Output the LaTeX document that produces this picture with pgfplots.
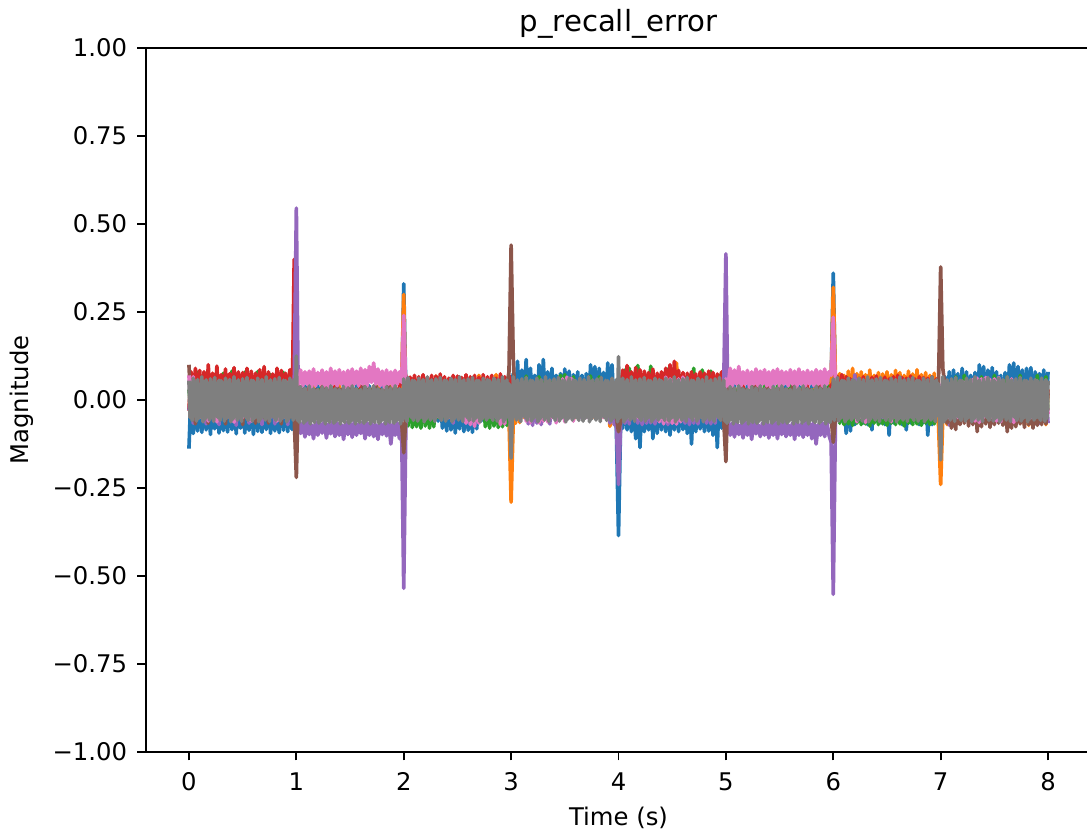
\documentclass[border=0pt]{standalone}
\usepackage{pgfplots}
\usepackage{pgfplotstable}
\pgfplotsset{compat=1.18}
\usepackage{fontspec}
\setmainfont{DejaVu Sans}
\definecolor{tabblue}{HTML}{1F77B4}
\definecolor{taborange}{HTML}{FF7F0E}
\definecolor{tabgreen}{HTML}{2CA02C}
\definecolor{tabred}{HTML}{D62728}
\definecolor{tabpurple}{HTML}{9467BD}
\definecolor{tabbrown}{HTML}{8C564B}
\definecolor{tabpink}{HTML}{E377C2}
\definecolor{tabgray}{HTML}{7F7F7F}

% columns: t blue orange green red purple brown pink
\pgfplotstableread{
t b o g r p n k
0.00 -0.138 -0.03 0.03 -0.03 -0.03 0.1 0.07
0.02 0.03 0.04 -0.03 0.08 0.02 -0.03 -0.04
0.04 -0.095 -0.03 0.04 -0.02 -0.066 0.04 0.066
0.06 0.04 0.072 -0.02 0.09 0.03 -0.068 -0.03
0.08 -0.088 -0.02 0.078 -0.03 -0.04 0.03 0.04
0.10 0.02 0.04 -0.03 0.084 0.02 -0.04 -0.05
0.12 -0.092 -0.03 0.05 -0.02 -0.05 0.02 0.05
0.14 0.03 0.03 -0.04 0.08 0.03 -0.05 -0.04
0.16 -0.085 -0.04 0.04 -0.03 -0.068 0.03 0.04
0.18 0.04 0.04 -0.02 0.1 0.02 -0.066 -0.06
0.20 -0.098 -0.02 0.03 -0.04 -0.04 0.04 0.05
0.22 0.02 0.075 -0.03 0.076 0.03 -0.04 -0.03
0.24 -0.082 -0.03 0.05 -0.03 -0.05 0.02 0.04
0.26 0.03 0.03 -0.04 0.096 0.02 -0.05 -0.062
0.28 -0.094 -0.04 0.04 -0.02 -0.07 0.03 0.05
0.30 0.04 0.04 -0.03 0.072 0.03 -0.035 -0.04
0.32 -0.087 -0.02 0.076 -0.03 -0.04 0.04 0.04
0.34 0.02 0.03 -0.02 0.088 0.02 -0.068 -0.05
0.36 -0.091 -0.03 0.04 -0.04 -0.05 0.03 0.05
0.38 0.03 0.071 -0.04 0.075 0.03 -0.04 -0.03
0.40 -0.084 -0.04 0.082 -0.02 -0.04 0.02 0.04
0.42 0.04 0.04 -0.03 0.092 0.02 -0.05 -0.063
0.44 -0.096 -0.02 0.03 -0.03 -0.072 0.04 0.05
0.46 0.02 0.03 -0.02 0.08 0.03 -0.04 -0.04
0.48 -0.08 -0.03 0.05 -0.04 -0.04 0.03 0.04
0.50 0.03 0.04 -0.04 0.078 0.02 -0.07 -0.05
0.52 -0.094 -0.04 0.079 -0.02 -0.05 0.02 0.05
0.54 0.04 0.074 -0.03 0.09 0.03 -0.04 -0.03
0.56 -0.086 -0.02 0.04 -0.03 -0.066 0.03 0.04
0.58 0.02 0.03 -0.02 0.082 0.02 -0.05 -0.06
0.60 -0.098 -0.03 0.03 -0.04 -0.04 0.04 0.05
0.62 0.03 0.04 -0.04 0.076 0.03 -0.066 -0.04
0.64 -0.089 -0.04 0.081 -0.02 -0.05 0.02 0.04
0.66 0.04 0.03 -0.03 0.086 0.02 -0.04 -0.05
0.68 -0.092 -0.02 0.04 -0.03 -0.07 0.03 0.05
0.70 0.02 0.072 -0.02 0.095 0.03 -0.05 -0.03
0.72 -0.084 -0.03 0.05 -0.04 -0.04 0.04 0.04
0.74 0.03 0.04 -0.04 0.08 0.02 -0.066 -0.05
0.76 -0.095 -0.04 0.072 -0.02 -0.05 0.02 0.05
0.78 0.04 0.03 -0.03 0.074 0.03 -0.04 -0.04
0.80 -0.088 -0.02 0.04 -0.03 -0.068 0.03 0.04
0.82 0.02 0.07 -0.02 0.09 0.02 -0.05 -0.06
0.84 -0.093 -0.03 0.03 -0.04 -0.04 0.04 0.05
0.86 0.03 0.04 -0.04 0.084 0.03 -0.068 -0.03
0.88 -0.086 -0.04 0.078 -0.02 -0.05 0.02 0.04
0.90 0.04 0.03 -0.03 0.076 0.02 -0.04 -0.05
0.92 -0.09 -0.02 0.04 -0.03 -0.07 0.03 0.05
0.94 0.02 0.04 -0.02 0.086 0.03 -0.05 -0.04
0.96 -0.084 -0.03 0.05 -0.04 -0.04 0.04 0.04
0.98 0.03 0.04 -0.04 0.40 0.04 -0.05 -0.04
1.00 0.02 0.03 -0.03 0.05 0.545 -0.22 0.05
1.02 -0.03 -0.02 0.03 -0.03 -0.06 0.04 0.045
1.04 0.03 0.03 -0.03 0.03 -0.095 -0.03 0.085
1.06 -0.02 -0.03 0.02 -0.04 -0.065 0.03 0.04
1.08 0.04 0.02 -0.04 0.02 -0.105 -0.04 0.08
1.10 -0.03 -0.04 0.03 -0.03 -0.06 0.02 0.045
1.12 0.02 0.03 -0.02 0.04 -0.098 -0.03 0.082
1.14 -0.04 -0.02 0.04 -0.02 -0.07 0.04 0.035
1.16 0.03 0.04 -0.03 0.03 -0.11 -0.02 0.088
1.18 -0.02 -0.03 0.02 -0.04 -0.062 0.03 0.04
1.20 0.04 0.02 -0.04 0.02 -0.1 -0.04 0.078
1.22 -0.03 -0.04 0.03 -0.03 -0.066 0.02 0.045
1.24 0.02 0.03 -0.02 0.04 -0.094 -0.03 0.085
1.26 -0.04 -0.02 0.04 -0.02 -0.06 0.04 0.04
1.28 0.03 0.04 -0.03 0.03 -0.108 -0.02 0.08
1.30 -0.02 -0.03 0.02 -0.04 -0.068 0.03 0.035
1.32 0.04 0.02 -0.04 0.02 -0.096 -0.04 0.09
1.34 -0.03 -0.04 0.03 -0.03 -0.06 0.02 0.045
1.36 0.02 0.03 -0.02 0.04 -0.104 -0.03 0.082
1.38 -0.04 -0.02 0.04 -0.02 -0.065 0.04 0.04
1.40 0.03 0.04 -0.03 0.03 -0.1 -0.02 0.086
1.42 -0.02 -0.03 0.02 -0.04 -0.07 0.03 0.045
1.44 0.04 0.02 -0.04 0.02 -0.112 -0.04 0.08
1.46 -0.03 -0.04 0.03 -0.03 -0.062 0.02 0.035
1.48 0.02 0.03 -0.02 0.04 -0.098 -0.03 0.084
1.50 -0.04 -0.02 0.04 -0.02 -0.066 0.04 0.04
1.52 0.03 0.04 -0.03 0.03 -0.106 -0.02 0.088
1.54 -0.02 -0.03 0.02 -0.04 -0.06 0.03 0.045
1.56 0.04 0.02 -0.04 0.02 -0.1 -0.04 0.082
1.58 -0.03 -0.04 0.03 -0.03 -0.068 0.02 0.04
1.60 0.02 0.03 -0.02 0.04 -0.095 -0.03 0.09
1.62 -0.04 -0.02 0.04 -0.02 -0.062 0.04 0.045
1.64 0.03 0.04 -0.03 0.03 -0.11 -0.02 0.086
1.66 -0.02 -0.03 0.02 -0.04 -0.065 0.03 0.04
1.68 0.04 0.02 -0.04 0.02 -0.1 -0.04 0.095
1.70 -0.03 -0.04 0.03 -0.03 -0.06 0.02 0.05
1.72 0.02 0.03 -0.02 0.04 -0.104 -0.03 0.105
1.74 -0.04 -0.02 0.04 -0.02 -0.07 0.04 0.045
1.76 0.03 0.04 -0.03 0.03 -0.112 -0.02 0.088
1.78 -0.02 -0.03 0.02 -0.04 -0.062 0.03 0.04
1.80 0.04 0.02 -0.04 0.02 -0.098 -0.04 0.082
1.82 -0.03 -0.04 0.03 -0.03 -0.066 0.02 0.035
1.84 0.02 0.03 -0.02 0.04 -0.102 -0.03 0.085
1.86 -0.04 -0.02 0.04 -0.02 -0.06 0.04 0.045
1.88 0.03 0.04 -0.03 0.03 -0.125 -0.02 0.08
1.90 -0.02 -0.03 0.02 -0.04 -0.068 0.03 0.04
1.92 0.04 0.02 -0.04 0.02 -0.1 -0.04 0.084
1.94 -0.03 -0.04 0.03 -0.03 -0.065 0.02 0.045
1.96 0.02 0.03 -0.02 0.04 -0.11 -0.03 0.08
1.98 -0.03 0.05 0.02 0.05 -0.07 -0.06 0.05
2.00 0.33 0.30 0.02 0.06 -0.535 -0.15 0.24
2.02 0.02 -0.03 -0.04 0.07 -0.07 -0.05 0.03
2.04 -0.04 0.03 -0.074 -0.03 0.03 0.02 0.03
2.06 0.03 -0.03 0.03 0.065 -0.04 -0.03 -0.04
2.08 -0.05 0.04 -0.078 -0.02 0.02 0.03 0.04
2.10 0.02 -0.02 0.02 0.07 -0.05 -0.02 -0.03
2.12 -0.04 0.03 -0.076 -0.03 0.03 0.04 0.03
2.14 0.03 -0.04 0.03 0.066 -0.04 -0.03 -0.04
2.16 -0.05 0.02 -0.08 -0.04 0.02 0.02 0.04
2.18 0.02 -0.03 0.02 0.072 -0.05 -0.04 -0.05
2.20 -0.04 0.04 -0.074 -0.02 0.03 0.03 0.03
2.22 0.03 -0.02 0.03 0.064 -0.04 -0.02 -0.04
2.24 -0.05 0.03 -0.08 -0.03 0.02 0.04 0.04
2.26 0.02 -0.04 0.02 0.07 -0.05 -0.03 -0.03
2.28 -0.04 0.02 -0.076 -0.04 0.03 0.02 0.03
2.30 0.03 0.068 0.03 0.068 -0.04 -0.04 -0.05
2.32 -0.06 0.03 -0.05 -0.02 0.02 0.03 0.04
2.34 0.02 -0.03 0.02 0.074 -0.05 -0.02 -0.04
2.36 -0.08 0.04 -0.05 -0.03 0.03 0.04 0.03
2.38 0.03 -0.02 0.03 0.066 -0.04 -0.03 -0.04
2.40 -0.088 0.03 -0.04 -0.04 0.02 0.02 0.04
2.42 0.02 -0.04 0.02 0.062 -0.05 -0.04 -0.05
2.44 -0.085 0.02 -0.05 -0.02 0.03 0.03 0.03
2.46 0.03 -0.03 0.03 0.07 -0.066 -0.02 -0.04
2.48 -0.094 0.04 -0.04 -0.03 0.02 0.04 0.04
2.50 0.02 -0.02 0.02 0.068 -0.04 -0.03 -0.03
2.52 -0.082 0.03 -0.05 -0.04 0.03 0.02 0.03
2.54 0.03 -0.04 0.03 0.064 -0.05 -0.04 -0.05
2.56 -0.09 0.02 -0.04 -0.02 0.02 0.03 0.04
2.58 0.02 -0.03 0.02 0.072 -0.04 -0.02 -0.066
2.60 -0.086 0.04 -0.05 -0.03 0.03 0.04 0.03
2.62 0.03 -0.02 0.03 0.066 -0.05 -0.03 -0.07
2.64 -0.092 0.03 -0.04 -0.04 0.02 0.02 0.04
2.66 0.02 -0.04 0.02 0.07 -0.04 -0.04 -0.075
2.68 -0.082 0.02 -0.05 -0.02 0.03 0.03 0.03
2.70 0.03 0.07 0.03 0.064 -0.05 -0.02 -0.066
2.72 -0.06 0.03 -0.05 -0.03 0.02 0.04 0.04
2.74 0.02 -0.03 0.02 0.072 -0.04 -0.03 -0.05
2.76 -0.05 0.04 -0.076 -0.04 0.03 0.02 0.03
2.78 0.03 -0.02 0.03 0.066 -0.05 -0.04 -0.04
2.80 -0.04 0.03 -0.08 -0.02 0.02 0.03 0.04
2.82 0.02 -0.04 0.02 0.07 -0.04 -0.02 -0.05
2.84 -0.05 0.02 -0.074 -0.03 0.03 0.04 0.03
2.86 0.03 0.072 0.03 0.062 -0.05 -0.03 -0.04
2.88 -0.04 0.03 -0.078 -0.04 0.02 0.02 0.04
2.90 0.02 -0.03 0.02 0.074 -0.04 -0.04 -0.07
2.92 -0.05 0.04 -0.076 -0.02 0.03 0.03 0.03
2.94 0.03 -0.02 0.03 0.066 -0.05 -0.02 -0.068
2.96 -0.04 0.03 -0.072 -0.03 0.02 0.04 0.04
2.98 0.03 -0.05 0.03 0.07 -0.04 0.08 -0.04
3.00 0.03 -0.29 -0.03 0.04 0.02 0.44 0.03
3.02 0.075 -0.06 0.04 -0.03 -0.03 0.12 0.04
3.04 -0.03 -0.066 -0.03 0.03 -0.04 -0.03 0.03
3.06 0.11 0.03 0.05 -0.02 0.02 0.02 -0.04
3.08 -0.04 -0.064 -0.02 0.04 -0.05 -0.04 0.04
3.10 0.085 0.02 0.04 -0.03 0.03 0.03 -0.05
3.12 -0.03 -0.05 -0.03 0.03 -0.04 -0.02 0.03
3.14 0.115 0.03 0.068 -0.02 0.02 0.04 -0.06
3.16 -0.04 -0.04 -0.02 0.04 -0.068 -0.03 0.04
3.18 0.09 0.02 0.05 -0.03 0.03 0.02 -0.064
3.20 -0.03 -0.05 -0.03 0.03 -0.072 -0.04 0.03
3.22 0.07 0.03 0.04 -0.02 0.02 0.03 -0.05
3.24 -0.04 -0.04 -0.02 0.04 -0.066 -0.02 0.04
3.26 0.1 0.02 0.066 -0.03 0.03 0.04 -0.065
3.28 -0.03 -0.05 -0.03 0.03 -0.07 -0.03 0.03
3.30 0.115 0.03 0.05 -0.02 0.02 0.02 -0.06
3.32 -0.04 -0.04 -0.02 0.04 -0.05 -0.04 0.04
3.34 0.08 0.02 0.04 -0.03 0.03 0.03 -0.062
3.36 -0.03 -0.05 -0.03 0.03 -0.068 -0.02 0.03
3.38 0.09 0.03 0.05 -0.02 0.02 0.04 -0.05
3.40 -0.04 -0.04 -0.02 0.04 -0.05 -0.03 0.04
3.42 0.07 0.02 0.04 -0.03 0.03 0.02 -0.065
3.44 -0.03 -0.05 -0.03 0.03 -0.04 -0.04 0.05
3.46 0.075 0.03 0.07 -0.02 0.02 0.03 -0.05
3.48 -0.04 -0.04 -0.02 0.04 -0.05 -0.02 0.06
3.50 0.088 0.02 0.072 -0.03 0.03 0.04 -0.062
3.52 -0.03 -0.05 -0.03 0.03 -0.04 -0.03 0.065
3.54 0.082 0.03 0.05 -0.02 0.02 0.02 -0.05
3.56 -0.04 -0.04 -0.02 0.04 -0.05 -0.04 0.062
3.58 0.072 0.02 0.066 -0.03 0.03 0.03 -0.06
3.60 -0.03 -0.05 -0.03 0.03 -0.04 -0.02 0.05
3.62 0.08 0.03 0.04 -0.02 0.02 0.04 -0.05
3.64 -0.04 -0.04 -0.02 0.04 -0.05 -0.03 0.04
3.66 0.07 0.02 0.05 -0.03 0.03 0.02 -0.04
3.68 -0.03 -0.05 -0.03 0.03 -0.04 -0.04 0.03
3.70 0.075 0.03 0.04 -0.02 0.02 0.03 -0.05
3.72 -0.04 -0.04 -0.02 0.04 -0.05 -0.02 0.04
3.74 0.1 0.02 0.068 -0.03 0.03 0.04 -0.04
3.76 -0.03 -0.05 -0.03 0.03 -0.04 -0.03 0.03
3.78 0.095 0.03 0.05 -0.02 0.02 0.02 -0.05
3.80 -0.04 -0.04 -0.02 0.04 -0.05 -0.04 0.04
3.82 0.09 0.02 0.066 -0.03 0.03 0.03 -0.04
3.84 -0.03 -0.05 -0.03 0.03 -0.04 -0.02 0.03
3.86 0.078 0.03 0.04 -0.02 0.02 0.04 -0.05
3.88 -0.04 -0.04 -0.02 0.04 -0.05 -0.03 0.04
3.90 0.105 0.02 0.05 -0.03 0.03 0.02 -0.04
3.92 -0.03 -0.075 -0.03 0.03 -0.066 -0.04 0.03
3.94 0.1 0.03 0.04 -0.02 0.02 0.03 -0.05
3.96 -0.04 -0.07 -0.02 0.04 -0.07 -0.02 0.04
3.98 -0.08 0.03 0.03 -0.03 -0.07 -0.05 -0.04
4.00 -0.385 -0.03 0.02 0.03 -0.24 -0.09 -0.05
4.02 -0.06 0.02 -0.03 0.04 -0.07 -0.06 0.03
4.04 -0.08 -0.03 -0.03 0.085 0.03 0.03 0.04
4.06 0.03 0.04 0.085 -0.02 -0.066 -0.04 -0.04
4.08 -0.085 -0.02 -0.02 0.098 0.02 0.02 0.03
4.10 0.02 0.03 0.09 -0.03 -0.068 -0.03 -0.05
4.12 -0.09 -0.04 -0.03 0.08 0.03 0.04 0.04
4.14 0.03 0.03 0.07 -0.02 -0.05 -0.02 -0.04
4.16 -0.11 -0.03 -0.02 0.092 0.02 0.03 0.03
4.18 0.02 0.04 0.098 -0.03 -0.066 -0.04 -0.05
4.20 -0.135 -0.02 -0.03 0.086 0.03 0.02 0.04
4.22 0.03 0.03 0.05 -0.02 -0.07 -0.03 -0.04
4.24 -0.09 -0.04 -0.02 0.082 0.02 0.04 0.03
4.26 0.02 0.03 0.07 -0.03 -0.066 -0.02 -0.05
4.28 -0.085 -0.03 -0.03 0.078 0.03 0.03 0.04
4.30 0.03 0.04 0.096 -0.02 -0.065 -0.04 -0.04
4.32 -0.11 -0.02 -0.02 0.088 0.02 0.02 0.03
4.34 0.02 0.03 0.05 -0.03 -0.068 -0.03 -0.05
4.36 -0.095 -0.04 -0.03 0.076 0.03 0.04 0.04
4.38 0.03 0.03 0.07 -0.02 -0.05 -0.02 -0.062
4.40 -0.085 -0.03 -0.02 0.08 0.02 0.03 0.05
4.42 0.02 0.04 0.05 -0.03 -0.066 -0.04 -0.068
4.44 -0.09 -0.02 -0.03 0.09 0.03 0.02 0.065
4.46 0.03 0.03 0.088 -0.02 -0.07 -0.03 -0.062
4.48 -0.1 -0.04 -0.02 0.1 0.02 0.04 0.06
4.50 0.02 0.03 0.07 -0.03 -0.066 -0.02 -0.066
4.52 -0.085 -0.03 -0.03 0.11 0.03 0.03 0.062
4.54 0.03 0.105 0.05 -0.02 -0.068 -0.04 -0.068
4.56 -0.09 -0.02 -0.02 0.084 0.02 0.02 0.06
4.58 0.02 0.03 0.07 -0.03 -0.05 -0.03 -0.062
4.60 -0.084 -0.04 -0.03 0.078 0.03 0.04 0.065
4.62 0.03 0.03 0.05 -0.02 -0.066 -0.02 -0.05
4.64 -0.095 -0.03 -0.02 0.076 0.02 0.03 0.06
4.66 0.02 0.04 0.07 -0.03 -0.07 -0.04 -0.04
4.68 -0.125 -0.02 -0.03 0.08 0.03 0.02 0.05
4.70 0.03 0.03 0.09 -0.02 -0.066 -0.03 -0.05
4.72 -0.09 -0.04 -0.02 0.074 0.02 0.04 0.04
4.74 0.02 0.03 0.05 -0.03 -0.068 -0.02 -0.04
4.76 -0.082 -0.03 -0.03 0.08 0.03 0.03 0.05
4.78 0.03 0.04 0.085 -0.02 -0.05 -0.04 -0.05
4.80 -0.09 -0.02 -0.02 0.076 0.02 0.02 0.04
4.82 0.02 0.03 0.07 -0.03 -0.066 -0.03 -0.04
4.84 -0.088 -0.04 -0.03 0.082 0.03 0.04 0.05
4.86 0.03 0.03 0.082 -0.02 -0.068 -0.02 -0.05
4.88 -0.1 -0.03 -0.02 0.078 0.02 0.03 0.04
4.90 0.02 0.04 0.05 -0.03 -0.066 -0.04 -0.04
4.92 -0.135 -0.02 -0.03 0.074 0.03 0.02 0.05
4.94 0.03 0.03 0.07 -0.02 -0.05 -0.03 -0.05
4.96 -0.08 -0.03 -0.02 0.08 0.02 0.04 0.04
4.98 0.03 0.03 0.04 -0.03 0.05 -0.06 -0.04
5.00 0.03 -0.02 0.03 0.04 0.415 -0.175 0.06
5.02 -0.03 0.03 -0.03 -0.03 -0.06 0.04 0.04
5.04 0.03 -0.03 0.02 0.04 -0.1 -0.03 0.09
5.06 -0.02 0.02 -0.03 -0.03 -0.065 0.03 0.04
5.08 0.04 -0.04 0.03 0.02 -0.105 -0.04 0.085
5.10 -0.03 0.03 -0.02 -0.04 -0.06 0.02 0.045
5.12 0.02 -0.02 0.04 0.03 -0.098 -0.03 0.095
5.14 -0.04 0.04 -0.03 -0.02 -0.07 0.04 0.04
5.16 0.03 -0.03 0.02 0.04 -0.108 -0.02 0.08
5.18 -0.02 0.02 -0.04 -0.03 -0.062 0.03 0.045
5.20 0.04 -0.04 0.03 0.02 -0.1 -0.04 0.084
5.22 -0.03 0.03 -0.02 -0.04 -0.066 0.02 0.035
5.24 0.02 -0.02 0.04 0.03 -0.112 -0.03 0.08
5.26 -0.04 0.04 -0.03 -0.02 -0.06 0.04 0.045
5.28 0.03 -0.03 0.02 0.04 -0.096 -0.02 0.088
5.30 -0.02 0.02 -0.04 -0.03 -0.07 0.03 0.04
5.32 0.04 -0.04 0.03 0.02 -0.104 -0.04 0.082
5.34 -0.03 0.03 -0.02 -0.04 -0.065 0.02 0.045
5.36 0.02 -0.02 0.04 0.03 -0.1 -0.03 0.086
5.38 -0.04 0.04 -0.03 -0.02 -0.06 0.04 0.04
5.40 0.03 -0.03 0.02 0.04 -0.108 -0.02 0.08
5.42 -0.02 0.02 -0.04 -0.03 -0.068 0.03 0.035
5.44 0.04 -0.04 0.03 0.02 -0.1 -0.04 0.084
5.46 -0.03 0.03 -0.02 -0.04 -0.062 0.02 0.045
5.48 0.02 -0.02 0.04 0.03 -0.11 -0.03 0.088
5.50 -0.04 0.04 -0.03 -0.02 -0.066 0.04 0.04
5.52 0.03 -0.03 0.02 0.04 -0.098 -0.02 0.082
5.54 -0.02 0.02 -0.04 -0.03 -0.06 0.03 0.045
5.56 0.04 -0.04 0.03 0.02 -0.104 -0.04 0.08
5.58 -0.03 0.03 -0.02 -0.04 -0.07 0.02 0.04
5.60 0.02 -0.02 0.04 0.03 -0.1 -0.03 0.086
5.62 -0.04 0.04 -0.03 -0.02 -0.065 0.04 0.045
5.64 0.03 -0.03 0.02 0.04 -0.112 -0.02 0.082
5.66 -0.02 0.02 -0.04 -0.03 -0.06 0.03 0.035
5.68 0.04 -0.04 0.03 0.02 -0.1 -0.04 0.088
5.70 -0.03 0.03 -0.02 -0.04 -0.068 0.02 0.045
5.72 0.02 -0.02 0.04 0.03 -0.106 -0.03 0.08
5.74 -0.04 0.04 -0.03 -0.02 -0.062 0.04 0.04
5.76 0.03 -0.03 0.02 0.04 -0.1 -0.02 0.084
5.78 -0.02 0.02 -0.04 -0.03 -0.066 0.03 0.045
5.80 0.04 -0.04 0.03 0.02 -0.11 -0.04 0.08
5.82 -0.03 0.03 -0.02 -0.04 -0.06 0.02 0.04
5.84 0.02 -0.02 0.04 0.03 -0.125 -0.03 0.086
5.86 -0.04 0.04 -0.03 -0.02 -0.07 0.04 0.045
5.88 0.03 -0.03 0.02 0.04 -0.1 -0.02 0.082
5.90 -0.02 0.02 -0.04 -0.03 -0.065 0.03 0.04
5.92 0.04 -0.04 0.03 0.02 -0.104 -0.04 0.088
5.94 -0.03 0.03 -0.02 -0.04 -0.062 0.02 0.045
5.96 0.02 -0.02 0.04 0.03 -0.1 -0.03 0.08
5.98 0.05 0.05 0.03 0.04 -0.12 -0.05 0.07
6.00 0.36 0.32 -0.03 0.05 -0.552 -0.12 0.235
6.02 0.03 0.07 0.03 0.07 -0.06 -0.05 0.04
6.04 -0.05 -0.03 0.03 0.065 0.02 0.03 0.04
6.06 0.03 0.075 -0.066 -0.03 -0.04 -0.02 -0.04
6.08 -0.06 -0.02 0.03 0.072 0.03 0.04 0.03
6.10 0.02 0.07 -0.07 -0.02 -0.04 -0.03 -0.05
6.12 -0.095 -0.03 0.02 0.066 0.02 0.02 0.04
6.14 0.03 0.082 -0.068 -0.03 -0.05 -0.04 -0.04
6.16 -0.088 -0.04 0.03 0.06 0.03 0.03 0.03
6.18 0.02 0.09 -0.072 -0.02 -0.04 -0.02 -0.05
6.20 -0.07 -0.02 0.02 0.07 0.072 0.04 0.04
6.22 0.03 0.075 -0.066 -0.03 -0.05 -0.03 -0.062
6.24 -0.06 -0.03 0.03 0.062 0.02 0.02 0.03
6.26 0.02 0.08 -0.07 -0.02 -0.04 -0.04 -0.05
6.28 -0.065 -0.04 0.02 0.066 0.03 0.03 0.04
6.30 0.03 0.072 -0.068 -0.03 -0.05 -0.02 -0.064
6.32 -0.07 -0.02 0.03 0.06 0.02 0.04 0.03
6.34 0.02 0.085 -0.074 -0.02 -0.04 -0.03 -0.05
6.36 -0.085 -0.03 0.02 0.064 0.03 0.02 0.04
6.38 0.03 0.07 -0.066 -0.03 -0.05 -0.04 -0.04
6.40 -0.06 -0.04 0.03 0.068 0.02 0.03 0.03
6.42 0.02 0.078 -0.07 -0.02 -0.04 -0.02 -0.05
6.44 -0.065 -0.02 0.02 0.062 0.03 0.04 0.04
6.46 0.03 0.074 -0.068 -0.03 -0.05 -0.03 -0.04
6.48 -0.07 -0.03 0.03 0.065 0.02 0.02 0.03
6.50 0.02 0.08 -0.072 -0.02 -0.04 -0.04 -0.05
6.52 -0.1 -0.04 0.02 0.06 0.03 0.03 0.04
6.54 0.03 0.072 -0.066 -0.03 -0.05 -0.02 -0.062
6.56 -0.065 -0.02 0.03 0.066 0.02 0.04 0.03
6.58 0.02 0.084 -0.07 -0.02 -0.04 -0.03 -0.05
6.60 -0.06 -0.03 0.02 0.07 0.03 0.02 0.04
6.62 0.03 0.078 -0.068 -0.03 -0.05 -0.04 -0.04
6.64 -0.07 -0.04 0.03 0.064 0.02 0.03 0.03
6.66 0.02 0.07 -0.074 -0.02 -0.04 -0.02 -0.05
6.68 -0.085 -0.02 0.02 0.062 0.03 0.04 0.04
6.70 0.03 0.082 -0.066 -0.03 -0.05 -0.03 -0.04
6.72 -0.065 -0.03 0.03 0.068 0.02 0.02 0.03
6.74 0.02 0.074 -0.07 -0.02 -0.04 -0.04 -0.05
6.76 -0.06 -0.04 0.02 0.06 0.03 0.03 0.04
6.78 0.03 0.086 -0.068 -0.03 -0.05 -0.02 -0.04
6.80 -0.07 -0.02 0.03 0.066 0.02 0.04 0.03
6.82 0.02 0.072 -0.072 -0.02 -0.04 -0.03 -0.05
6.84 -0.065 -0.03 0.02 0.064 0.03 0.02 0.04
6.86 0.03 0.078 -0.066 -0.03 -0.05 -0.04 -0.04
6.88 -0.1 -0.04 0.03 0.062 0.02 0.03 0.03
6.90 0.02 0.07 -0.07 -0.02 -0.04 -0.02 -0.05
6.92 -0.07 -0.02 0.02 0.066 0.03 0.04 0.04
6.94 0.03 0.076 -0.068 -0.03 -0.05 -0.03 -0.04
6.96 -0.06 -0.03 0.03 0.06 0.02 0.02 0.03
6.98 0.03 -0.07 -0.03 0.04 -0.04 0.05 -0.03
7.00 0.04 -0.24 -0.03 0.03 0.02 0.378 0.03
7.02 -0.03 -0.05 0.04 -0.03 -0.03 0.09 0.05
7.04 0.066 0.03 -0.03 0.03 -0.04 0.04 -0.04
7.06 -0.03 -0.07 0.04 -0.02 0.02 -0.066 0.04
7.08 0.08 0.03 -0.02 0.04 -0.072 0.03 -0.05
7.10 -0.04 -0.04 0.05 -0.03 0.03 -0.08 0.03
7.12 0.085 0.02 -0.03 0.03 -0.04 0.02 -0.04
7.14 -0.03 -0.05 0.066 -0.02 0.02 -0.084 0.05
7.16 0.075 0.03 -0.02 0.04 -0.05 0.04 -0.05
7.18 -0.04 -0.04 0.05 -0.03 0.03 -0.07 0.04
7.20 0.09 0.02 -0.03 0.03 -0.04 0.03 -0.04
7.22 -0.03 -0.05 0.07 -0.02 0.02 -0.066 0.05
7.24 0.08 0.03 -0.02 0.04 -0.05 0.02 -0.05
7.26 -0.04 -0.04 0.05 -0.03 0.03 -0.074 0.04
7.28 0.07 0.02 -0.03 0.03 -0.04 0.03 -0.04
7.30 -0.03 -0.05 0.04 -0.02 0.02 -0.07 0.058
7.32 0.078 0.03 -0.02 0.04 -0.05 0.04 -0.06
7.34 -0.04 -0.04 0.05 -0.03 0.03 -0.09 0.062
7.36 0.1 0.02 -0.03 0.03 -0.04 0.02 -0.064
7.38 -0.03 -0.05 0.066 -0.02 0.02 -0.076 0.06
7.40 0.095 0.03 -0.02 0.04 -0.05 0.03 -0.05
7.42 -0.04 -0.04 0.05 -0.03 0.03 -0.068 0.064
7.44 0.085 0.02 -0.03 0.03 -0.04 0.04 -0.04
7.46 -0.03 -0.05 0.04 -0.02 0.02 -0.078 0.058
7.48 0.092 0.03 -0.02 0.04 -0.05 0.02 -0.05
7.50 -0.04 -0.04 0.07 -0.03 0.03 -0.07 0.06
7.52 0.08 0.02 -0.03 0.03 -0.04 0.03 -0.06
7.54 -0.03 -0.05 0.05 -0.02 0.02 -0.066 0.064
7.56 0.07 0.03 -0.02 0.04 -0.05 0.04 -0.062
7.58 -0.04 -0.04 0.04 -0.03 0.03 -0.072 0.05
7.60 0.078 0.02 -0.03 0.03 -0.04 0.02 -0.04
7.62 -0.03 -0.05 0.066 -0.02 0.02 -0.09 0.04
7.64 0.1 0.03 -0.02 0.04 -0.05 0.03 -0.05
7.66 -0.04 -0.04 0.05 -0.03 0.03 -0.08 0.06
7.68 0.105 0.02 -0.03 0.03 -0.04 0.04 -0.064
7.70 -0.03 -0.05 0.04 -0.02 0.02 -0.076 0.05
7.72 0.095 0.03 -0.02 0.04 -0.05 0.02 -0.04
7.74 -0.04 -0.04 0.07 -0.03 0.03 -0.068 0.04
7.76 0.085 0.02 -0.03 0.03 -0.04 0.03 -0.05
7.78 -0.03 -0.07 0.05 -0.02 0.02 -0.078 0.04
7.80 0.09 0.03 -0.02 0.04 -0.05 0.04 -0.04
7.82 -0.04 -0.072 0.04 -0.03 0.03 -0.07 0.05
7.84 0.092 0.02 -0.03 0.03 -0.04 0.02 -0.05
7.86 -0.03 -0.068 0.05 -0.02 0.02 -0.08 0.04
7.88 0.08 0.03 -0.02 0.04 -0.05 0.03 -0.04
7.90 -0.04 -0.07 0.07 -0.03 0.03 -0.072 0.05
7.92 0.075 0.02 -0.03 0.03 -0.066 0.04 -0.05
7.94 -0.03 -0.05 0.05 -0.02 0.02 -0.07 0.04
7.96 0.085 0.03 -0.02 0.04 -0.05 0.02 -0.04
7.98 -0.04 -0.07 0.066 -0.03 0.03 -0.068 0.05
8.00 0.08 0.03 -0.03 0.03 -0.066 0.02 -0.04
}\datatab

\begin{document}
\begin{tikzpicture}
\path[use as bounding box, clip] (-60.08pt,-34.57pt) rectangle (387.22pt,309.45pt);
\begin{axis}[
  scale only axis,
  width=388.87pt, height=289.7pt,
  xmin=-0.4, xmax=8.4, ymin=-1, ymax=1,
  xtick={0,1,2,3,4,5,6,7,8},
  xticklabels={0,1,2,3,4,5,6,7,8},
  ytick={-1,-0.75,-0.5,-0.25,0,0.25,0.5,0.75,1},
  yticklabels={−1.00,−0.75,−0.50,−0.25,0.00,0.25,0.50,0.75,1.00},
  /pgf/number format/assume math mode=true,
  tick align=outside, xtick pos=bottom, ytick pos=left,
  major tick length=3.5pt,
  axis line style={line width=0.8pt},
  every tick/.style={line width=0.8pt, black},
  tick label style={font=\fontsize{10}{12}\selectfont, inner sep=0pt},
  xticklabel style={anchor=base, yshift=-12.5pt},
  yticklabel style={anchor=east, xshift=-4.1pt},
  label style={font=\fontsize{10}{12}\selectfont},
  every axis title shift=0pt,
  title={p\_recall\_error},
  title style={at={(axis description cs:0.5,1)}, anchor=base, yshift=6.8pt, font=\fontsize{12}{14}\selectfont, inner sep=0pt},
  xlabel={Time (s)},
  xlabel style={at={(axis description cs:0.5,0)}, anchor=base, yshift=-30.2pt, inner sep=0pt},
  ylabel={Magnitude},
  ylabel style={at={(axis description cs:-0.1317,0.5)}, anchor=center, inner sep=0pt},
  every axis plot/.append style={line width=1.5pt, line join=round, mark=none},
]
\addplot[tabblue] table[x=t, y=b] {\datatab};
\addplot[taborange] table[x=t, y=o] {\datatab};
\addplot[tabgreen] table[x=t, y=g] {\datatab};
\addplot[tabred] table[x=t, y=r] {\datatab};
\addplot[tabpurple] table[x=t, y=p] {\datatab};
\addplot[tabbrown] table[x=t, y=n] {\datatab};
\addplot[tabpink] table[x=t, y=k] {\datatab};
\addplot[tabgray] coordinates {
(0,0.055) (0.01,-0.05) (0.02,0.048) (0.03,-0.058) (0.04,0.062) (0.05,-0.045) (0.06,0.05) (0.07,-0.06) (0.08,0.058) (0.09,-0.052)
(0.1,0.044) (0.11,-0.048) (0.12,0.066) (0.13,-0.062) (0.14,0.052) (0.15,-0.054) (0.16,0.057) (0.17,-0.046) (0.18,0.046) (0.19,-0.057)
(0.2,0.06) (0.21,-0.05) (0.22,0.05) (0.23,-0.061) (0.24,0.064) (0.25,-0.044) (0.26,0.047) (0.27,-0.05) (0.28,0.056) (0.29,-0.058)
(0.3,0.055) (0.31,-0.045) (0.32,0.048) (0.33,-0.06) (0.34,0.062) (0.35,-0.052) (0.36,0.05) (0.37,-0.048) (0.38,0.058) (0.39,-0.062)
(0.4,0.044) (0.41,-0.054) (0.42,0.066) (0.43,-0.046) (0.44,0.052) (0.45,-0.057) (0.46,0.057) (0.47,-0.05) (0.48,0.046) (0.49,-0.061)
(0.5,0.06) (0.51,-0.044) (0.52,0.05) (0.53,-0.05) (0.54,0.064) (0.55,-0.058) (0.56,0.047) (0.57,-0.045) (0.58,0.056) (0.59,-0.06)
(0.6,0.055) (0.61,-0.052) (0.62,0.048) (0.63,-0.048) (0.64,0.062) (0.65,-0.062) (0.66,0.05) (0.67,-0.054) (0.68,0.058) (0.69,-0.046)
(0.7,0.044) (0.71,-0.057) (0.72,0.066) (0.73,-0.05) (0.74,0.052) (0.75,-0.061) (0.76,0.057) (0.77,-0.044) (0.78,0.046) (0.79,-0.05)
(0.8,0.06) (0.81,-0.058) (0.82,0.05) (0.83,-0.045) (0.84,0.064) (0.85,-0.06) (0.86,0.047) (0.87,-0.052) (0.88,0.056) (0.89,-0.048)
(0.9,0.055) (0.91,-0.062) (0.92,0.048) (0.93,-0.054) (0.94,0.062) (0.95,-0.046) (0.96,0.05) (0.97,-0.057) (0.98,0.058) (0.99,-0.05)
(1,0.125) (1.01,-0.058) (1.02,0.022) (1.03,-0.064) (1.04,0.038) (1.05,-0.052) (1.06,0.026) (1.07,-0.066) (1.08,0.034) (1.09,-0.06)
(1.1,0.018) (1.11,-0.055) (1.12,0.04) (1.13,-0.068) (1.14,0.028) (1.15,-0.058) (1.16,0.032) (1.17,-0.064) (1.18,0.024) (1.19,-0.052)
(1.2,0.03) (1.21,-0.066) (1.22,0.022) (1.23,-0.06) (1.24,0.038) (1.25,-0.055) (1.26,0.026) (1.27,-0.068) (1.28,0.034) (1.29,-0.058)
(1.3,0.018) (1.31,-0.064) (1.32,0.04) (1.33,-0.052) (1.34,0.028) (1.35,-0.066) (1.36,0.032) (1.37,-0.06) (1.38,0.024) (1.39,-0.055)
(1.4,0.03) (1.41,-0.068) (1.42,0.022) (1.43,-0.058) (1.44,0.038) (1.45,-0.064) (1.46,0.026) (1.47,-0.052) (1.48,0.034) (1.49,-0.066)
(1.5,0.018) (1.51,-0.06) (1.52,0.04) (1.53,-0.055) (1.54,0.028) (1.55,-0.068) (1.56,0.032) (1.57,-0.058) (1.58,0.024) (1.59,-0.064)
(1.6,0.03) (1.61,-0.052) (1.62,0.022) (1.63,-0.066) (1.64,0.038) (1.65,-0.06) (1.66,0.026) (1.67,-0.055) (1.68,0.034) (1.69,-0.068)
(1.7,0.018) (1.71,-0.058) (1.72,0.04) (1.73,-0.064) (1.74,0.028) (1.75,-0.052) (1.76,0.032) (1.77,-0.066) (1.78,0.024) (1.79,-0.06)
(1.8,0.03) (1.81,-0.055) (1.82,0.022) (1.83,-0.068) (1.84,0.038) (1.85,-0.058) (1.86,0.026) (1.87,-0.064) (1.88,0.034) (1.89,-0.052)
(1.9,0.018) (1.91,-0.066) (1.92,0.04) (1.93,-0.06) (1.94,0.028) (1.95,-0.055) (1.96,0.032) (1.97,-0.068) (1.98,0.024) (1.99,-0.058)
(2,0.06) (2.01,-0.05) (2.02,0.05) (2.03,-0.061) (2.04,0.064) (2.05,-0.044) (2.06,0.047) (2.07,-0.05) (2.08,0.056) (2.09,-0.058)
(2.1,0.055) (2.11,-0.045) (2.12,0.048) (2.13,-0.06) (2.14,0.062) (2.15,-0.052) (2.16,0.05) (2.17,-0.048) (2.18,0.058) (2.19,-0.062)
(2.2,0.044) (2.21,-0.054) (2.22,0.066) (2.23,-0.046) (2.24,0.052) (2.25,-0.057) (2.26,0.057) (2.27,-0.05) (2.28,0.046) (2.29,-0.061)
(2.3,0.06) (2.31,-0.044) (2.32,0.05) (2.33,-0.05) (2.34,0.064) (2.35,-0.058) (2.36,0.047) (2.37,-0.045) (2.38,0.056) (2.39,-0.06)
(2.4,0.055) (2.41,-0.052) (2.42,0.048) (2.43,-0.048) (2.44,0.062) (2.45,-0.062) (2.46,0.05) (2.47,-0.054) (2.48,0.058) (2.49,-0.046)
(2.5,0.044) (2.51,-0.057) (2.52,0.066) (2.53,-0.05) (2.54,0.052) (2.55,-0.061) (2.56,0.057) (2.57,-0.044) (2.58,0.046) (2.59,-0.05)
(2.6,0.06) (2.61,-0.058) (2.62,0.05) (2.63,-0.045) (2.64,0.064) (2.65,-0.06) (2.66,0.047) (2.67,-0.052) (2.68,0.056) (2.69,-0.048)
(2.7,0.055) (2.71,-0.062) (2.72,0.048) (2.73,-0.054) (2.74,0.062) (2.75,-0.046) (2.76,0.05) (2.77,-0.057) (2.78,0.058) (2.79,-0.05)
(2.8,0.055) (2.81,-0.05) (2.82,0.048) (2.83,-0.058) (2.84,0.062) (2.85,-0.045) (2.86,0.05) (2.87,-0.06) (2.88,0.058) (2.89,-0.052)
(2.9,0.044) (2.91,-0.048) (2.92,0.066) (2.93,-0.062) (2.94,0.052) (2.95,-0.054) (2.96,0.057) (2.97,-0.046) (2.98,0.046) (2.99,-0.057)
(3,-0.165) (3.01,-0.054) (3.02,0.066) (3.03,-0.046) (3.04,0.052) (3.05,-0.057) (3.06,0.057) (3.07,-0.05) (3.08,0.046) (3.09,-0.061)
(3.1,0.06) (3.11,-0.044) (3.12,0.05) (3.13,-0.05) (3.14,0.064) (3.15,-0.058) (3.16,0.047) (3.17,-0.045) (3.18,0.056) (3.19,-0.06)
(3.2,0.055) (3.21,-0.052) (3.22,0.048) (3.23,-0.048) (3.24,0.062) (3.25,-0.062) (3.26,0.05) (3.27,-0.054) (3.28,0.058) (3.29,-0.046)
(3.3,0.044) (3.31,-0.057) (3.32,0.066) (3.33,-0.05) (3.34,0.052) (3.35,-0.061) (3.36,0.057) (3.37,-0.044) (3.38,0.046) (3.39,-0.05)
(3.4,0.06) (3.41,-0.058) (3.42,0.05) (3.43,-0.045) (3.44,0.064) (3.45,-0.06) (3.46,0.047) (3.47,-0.052) (3.48,0.056) (3.49,-0.048)
(3.5,0.055) (3.51,-0.062) (3.52,0.048) (3.53,-0.054) (3.54,0.062) (3.55,-0.046) (3.56,0.05) (3.57,-0.057) (3.58,0.058) (3.59,-0.05)
(3.6,0.055) (3.61,-0.05) (3.62,0.048) (3.63,-0.058) (3.64,0.062) (3.65,-0.045) (3.66,0.05) (3.67,-0.06) (3.68,0.058) (3.69,-0.052)
(3.7,0.044) (3.71,-0.048) (3.72,0.066) (3.73,-0.062) (3.74,0.052) (3.75,-0.054) (3.76,0.057) (3.77,-0.046) (3.78,0.046) (3.79,-0.057)
(3.8,0.06) (3.81,-0.05) (3.82,0.05) (3.83,-0.061) (3.84,0.064) (3.85,-0.044) (3.86,0.047) (3.87,-0.05) (3.88,0.056) (3.89,-0.058)
(3.9,0.055) (3.91,-0.045) (3.92,0.048) (3.93,-0.06) (3.94,0.062) (3.95,-0.052) (3.96,0.05) (3.97,-0.048) (3.98,0.058) (3.99,-0.062)
(4,0.123) (4.01,-0.052) (4.02,0.048) (4.03,-0.048) (4.04,0.062) (4.05,-0.062) (4.06,0.05) (4.07,-0.054) (4.08,0.058) (4.09,-0.046)
(4.1,0.044) (4.11,-0.057) (4.12,0.066) (4.13,-0.05) (4.14,0.052) (4.15,-0.061) (4.16,0.057) (4.17,-0.044) (4.18,0.046) (4.19,-0.05)
(4.2,0.06) (4.21,-0.058) (4.22,0.05) (4.23,-0.045) (4.24,0.064) (4.25,-0.06) (4.26,0.047) (4.27,-0.052) (4.28,0.056) (4.29,-0.048)
(4.3,0.055) (4.31,-0.062) (4.32,0.048) (4.33,-0.054) (4.34,0.062) (4.35,-0.046) (4.36,0.05) (4.37,-0.057) (4.38,0.058) (4.39,-0.05)
(4.4,0.055) (4.41,-0.05) (4.42,0.048) (4.43,-0.058) (4.44,0.062) (4.45,-0.045) (4.46,0.05) (4.47,-0.06) (4.48,0.058) (4.49,-0.052)
(4.5,0.044) (4.51,-0.048) (4.52,0.066) (4.53,-0.062) (4.54,0.052) (4.55,-0.054) (4.56,0.057) (4.57,-0.046) (4.58,0.046) (4.59,-0.057)
(4.6,0.06) (4.61,-0.05) (4.62,0.05) (4.63,-0.061) (4.64,0.064) (4.65,-0.044) (4.66,0.047) (4.67,-0.05) (4.68,0.056) (4.69,-0.058)
(4.7,0.055) (4.71,-0.045) (4.72,0.048) (4.73,-0.06) (4.74,0.062) (4.75,-0.052) (4.76,0.05) (4.77,-0.048) (4.78,0.058) (4.79,-0.062)
(4.8,0.044) (4.81,-0.054) (4.82,0.066) (4.83,-0.046) (4.84,0.052) (4.85,-0.057) (4.86,0.057) (4.87,-0.05) (4.88,0.046) (4.89,-0.061)
(4.9,0.06) (4.91,-0.044) (4.92,0.05) (4.93,-0.05) (4.94,0.064) (4.95,-0.058) (4.96,0.047) (4.97,-0.045) (4.98,0.056) (4.99,-0.06)
(5,0.03) (5.01,-0.066) (5.02,0.022) (5.03,-0.06) (5.04,0.038) (5.05,-0.055) (5.06,0.026) (5.07,-0.068) (5.08,0.034) (5.09,-0.058)
(5.1,0.018) (5.11,-0.064) (5.12,0.04) (5.13,-0.052) (5.14,0.028) (5.15,-0.066) (5.16,0.032) (5.17,-0.06) (5.18,0.024) (5.19,-0.055)
(5.2,0.03) (5.21,-0.068) (5.22,0.022) (5.23,-0.058) (5.24,0.038) (5.25,-0.064) (5.26,0.026) (5.27,-0.052) (5.28,0.034) (5.29,-0.066)
(5.3,0.018) (5.31,-0.06) (5.32,0.04) (5.33,-0.055) (5.34,0.028) (5.35,-0.068) (5.36,0.032) (5.37,-0.058) (5.38,0.024) (5.39,-0.064)
(5.4,0.03) (5.41,-0.052) (5.42,0.022) (5.43,-0.066) (5.44,0.038) (5.45,-0.06) (5.46,0.026) (5.47,-0.055) (5.48,0.034) (5.49,-0.068)
(5.5,0.018) (5.51,-0.058) (5.52,0.04) (5.53,-0.064) (5.54,0.028) (5.55,-0.052) (5.56,0.032) (5.57,-0.066) (5.58,0.024) (5.59,-0.06)
(5.6,0.03) (5.61,-0.055) (5.62,0.022) (5.63,-0.068) (5.64,0.038) (5.65,-0.058) (5.66,0.026) (5.67,-0.064) (5.68,0.034) (5.69,-0.052)
(5.7,0.018) (5.71,-0.066) (5.72,0.04) (5.73,-0.06) (5.74,0.028) (5.75,-0.055) (5.76,0.032) (5.77,-0.068) (5.78,0.024) (5.79,-0.058)
(5.8,0.03) (5.81,-0.058) (5.82,0.022) (5.83,-0.064) (5.84,0.038) (5.85,-0.052) (5.86,0.026) (5.87,-0.066) (5.88,0.034) (5.89,-0.06)
(5.9,0.018) (5.91,-0.055) (5.92,0.04) (5.93,-0.068) (5.94,0.028) (5.95,-0.058) (5.96,0.032) (5.97,-0.064) (5.98,0.024) (5.99,-0.052)
(6,0.06) (6.01,-0.058) (6.02,0.05) (6.03,-0.045) (6.04,0.064) (6.05,-0.06) (6.06,0.047) (6.07,-0.052) (6.08,0.056) (6.09,-0.048)
(6.1,0.055) (6.11,-0.062) (6.12,0.048) (6.13,-0.054) (6.14,0.062) (6.15,-0.046) (6.16,0.05) (6.17,-0.057) (6.18,0.058) (6.19,-0.05)
(6.2,0.055) (6.21,-0.05) (6.22,0.048) (6.23,-0.058) (6.24,0.062) (6.25,-0.045) (6.26,0.05) (6.27,-0.06) (6.28,0.058) (6.29,-0.052)
(6.3,0.044) (6.31,-0.048) (6.32,0.066) (6.33,-0.062) (6.34,0.052) (6.35,-0.054) (6.36,0.057) (6.37,-0.046) (6.38,0.046) (6.39,-0.057)
(6.4,0.06) (6.41,-0.05) (6.42,0.05) (6.43,-0.061) (6.44,0.064) (6.45,-0.044) (6.46,0.047) (6.47,-0.05) (6.48,0.056) (6.49,-0.058)
(6.5,0.055) (6.51,-0.045) (6.52,0.048) (6.53,-0.06) (6.54,0.062) (6.55,-0.052) (6.56,0.05) (6.57,-0.048) (6.58,0.058) (6.59,-0.062)
(6.6,0.044) (6.61,-0.054) (6.62,0.066) (6.63,-0.046) (6.64,0.052) (6.65,-0.057) (6.66,0.057) (6.67,-0.05) (6.68,0.046) (6.69,-0.061)
(6.7,0.06) (6.71,-0.044) (6.72,0.05) (6.73,-0.05) (6.74,0.064) (6.75,-0.058) (6.76,0.047) (6.77,-0.045) (6.78,0.056) (6.79,-0.06)
(6.8,0.055) (6.81,-0.052) (6.82,0.048) (6.83,-0.048) (6.84,0.062) (6.85,-0.062) (6.86,0.05) (6.87,-0.054) (6.88,0.058) (6.89,-0.046)
(6.9,0.044) (6.91,-0.057) (6.92,0.066) (6.93,-0.05) (6.94,0.052) (6.95,-0.061) (6.96,0.057) (6.97,-0.044) (6.98,0.046) (6.99,-0.05)
(7,-0.17) (7.01,-0.048) (7.02,0.066) (7.03,-0.062) (7.04,0.052) (7.05,-0.054) (7.06,0.057) (7.07,-0.046) (7.08,0.046) (7.09,-0.057)
(7.1,0.06) (7.11,-0.05) (7.12,0.05) (7.13,-0.061) (7.14,0.064) (7.15,-0.044) (7.16,0.047) (7.17,-0.05) (7.18,0.056) (7.19,-0.058)
(7.2,0.055) (7.21,-0.045) (7.22,0.048) (7.23,-0.06) (7.24,0.062) (7.25,-0.052) (7.26,0.05) (7.27,-0.048) (7.28,0.058) (7.29,-0.062)
(7.3,0.044) (7.31,-0.054) (7.32,0.066) (7.33,-0.046) (7.34,0.052) (7.35,-0.057) (7.36,0.057) (7.37,-0.05) (7.38,0.046) (7.39,-0.061)
(7.4,0.06) (7.41,-0.044) (7.42,0.05) (7.43,-0.05) (7.44,0.064) (7.45,-0.058) (7.46,0.047) (7.47,-0.045) (7.48,0.056) (7.49,-0.06)
(7.5,0.055) (7.51,-0.052) (7.52,0.048) (7.53,-0.048) (7.54,0.062) (7.55,-0.062) (7.56,0.05) (7.57,-0.054) (7.58,0.058) (7.59,-0.046)
(7.6,0.044) (7.61,-0.057) (7.62,0.066) (7.63,-0.05) (7.64,0.052) (7.65,-0.061) (7.66,0.057) (7.67,-0.044) (7.68,0.046) (7.69,-0.05)
(7.7,0.06) (7.71,-0.058) (7.72,0.05) (7.73,-0.045) (7.74,0.064) (7.75,-0.06) (7.76,0.047) (7.77,-0.052) (7.78,0.056) (7.79,-0.048)
(7.8,0.055) (7.81,-0.062) (7.82,0.048) (7.83,-0.054) (7.84,0.062) (7.85,-0.046) (7.86,0.05) (7.87,-0.057) (7.88,0.058) (7.89,-0.05)
(7.9,0.055) (7.91,-0.05) (7.92,0.048) (7.93,-0.058) (7.94,0.062) (7.95,-0.045) (7.96,0.05) (7.97,-0.06) (7.98,0.058) (7.99,-0.052)
(8,0.055)
};
\end{axis}
\end{tikzpicture}
\end{document}
